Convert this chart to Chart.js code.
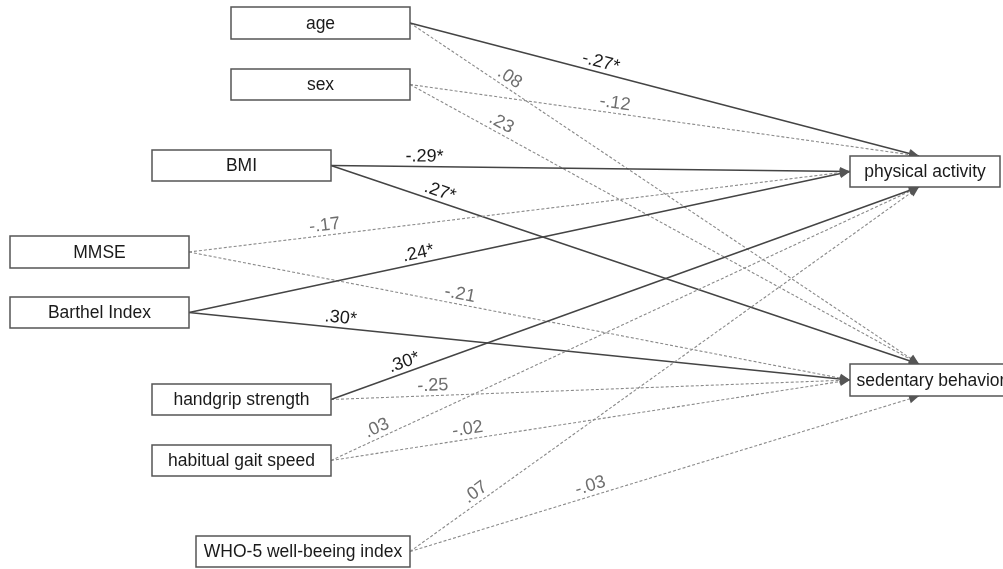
<!DOCTYPE html>
<html>
<head>
<meta charset="utf-8">
<script src="https://cdn.jsdelivr.net/npm/chart.js@4/dist/chart.umd.min.js"></script>
<style>
  body { margin: 0; background: #fff; }
  #wrap { width: 1003px; height: 569px; }
</style>
</head>
<body>
<div id="wrap"><canvas id="pathChart" width="1003" height="569"></canvas></div>
<script>
// data
const predictors = ['age', 'sex', 'BMI', 'MMSE', 'Barthel Index', 'handgrip strength', 'habitual gait speed', 'WHO-5 well-beeing index'];
const outcomes = ['physical activity', 'sedentary behavior'];
const coefPA = [-0.27, -0.12, -0.29, -0.17, 0.24, 0.30, 0.03, 0.07];
const coefSB = [0.08, 0.23, 0.27, -0.21, 0.30, -0.25, -0.02, -0.03];
const sigPA = [true, false, true, false, true, true, false, false];
const sigSB = [false, false, true, false, true, false, false, false];

// layout (axis units = pixels)
const predBoxes = [
  [231, 7, 410, 39], [231, 69, 410, 100], [152, 150, 331, 181], [10, 236, 189, 268],
  [10, 297, 189, 328], [152, 384, 331, 415], [152, 445, 331, 476], [196, 536, 410, 567]
];
const outBoxes = [[850, 156, 1000, 187], [850, 364, 1012, 396]];
const portsPA = ['top', 'top', 'left', 'left', 'left', 'bottom', 'bottom', 'bottom'];
const portsSB = ['top', 'top', 'top', 'left', 'left', 'left', 'left', 'bottom'];
const labelPosPA = [0.37, 0.40, 0.18, 0.207, 0.35, 0.13, 0.085, 0.14];
const labelPosSB = [0.185, 0.17, 0.18, 0.407, 0.228, 0.197, 0.266, 0.36];

const FONT = '"Liberation Sans", Arial, sans-serif';

function portPoint(box, port) {
  if (port === 'top') return { x: box[0] + 69, y: box[1] };
  if (port === 'bottom') return { x: box[0] + 69, y: box[3] };
  return { x: box[0], y: (box[1] + box[3]) / 2 };
}

function fmt(v, sig) {
  let s = Math.abs(v).toFixed(2).replace(/^0/, '');
  return (v < 0 ? '-' : '') + s + (sig ? '*' : '');
}

// build edge list
const edges = [];
[[coefPA, sigPA, portsPA, labelPosPA], [coefSB, sigSB, portsSB, labelPosSB]].forEach((set, o) => {
  predictors.forEach((p, i) => {
    const b = predBoxes[i];
    edges.push({
      from: { x: b[2], y: (b[1] + b[3]) / 2 },
      to: portPoint(outBoxes[o], set[2][i]),
      label: fmt(set[0][i], set[1][i]),
      sig: set[1][i],
      t: set[3][i]
    });
  });
});

const datasets = edges.map(e => ({
  data: [e.from, e.to],
  showLine: true,
  pointRadius: 0,
  borderColor: e.sig ? '#444' : '#8a8a8a',
  borderWidth: e.sig ? 1.4 : 1.1,
  borderDash: e.sig ? [] : [3, 2]
}));

const diagramPlugin = {
  id: 'diagram',
  afterDatasetsDraw(chart) {
    const ctx = chart.ctx;
    const xs = chart.scales.x, ys = chart.scales.y;
    const px = p => ({ x: xs.getPixelForValue(p.x), y: ys.getPixelForValue(p.y) });
    ctx.save();
    // arrowheads
    edges.forEach(e => {
      const a = px(e.from), b = px(e.to);
      const ang = Math.atan2(b.y - a.y, b.x - a.x);
      ctx.save();
      ctx.translate(b.x, b.y);
      ctx.rotate(ang);
      ctx.fillStyle = '#555';
      ctx.beginPath();
      ctx.moveTo(0, 0);
      ctx.lineTo(-10, -4.5);
      ctx.lineTo(-10, 4.5);
      ctx.closePath();
      ctx.fill();
      ctx.restore();
    });
    // coefficient labels
    ctx.font = '18px ' + FONT;
    ctx.textAlign = 'center';
    ctx.textBaseline = 'middle';
    edges.forEach(e => {
      const a = px(e.from), b = px(e.to);
      const dx = b.x - a.x, dy = b.y - a.y;
      const L = Math.hypot(dx, dy);
      const cx = a.x + dx * e.t + (dy / L) * 10;
      const cy = a.y + dy * e.t - (dx / L) * 10;
      ctx.save();
      ctx.translate(cx, cy);
      ctx.rotate(Math.atan2(dy, dx));
      ctx.fillStyle = e.sig ? '#1a1a1a' : '#6e6e6e';
      ctx.fillText(e.label, 0, 0);
      ctx.restore();
    });
    // boxes
    const drawBox = (b, text) => {
      const p1 = px({ x: b[0], y: b[1] }), p2 = px({ x: b[2], y: b[3] });
      ctx.fillStyle = '#fff';
      ctx.fillRect(p1.x, p1.y, p2.x - p1.x, p2.y - p1.y);
      ctx.strokeStyle = '#555';
      ctx.lineWidth = 1.5;
      ctx.setLineDash([]);
      ctx.strokeRect(p1.x, p1.y, p2.x - p1.x, p2.y - p1.y);
      ctx.fillStyle = '#1a1a1a';
      ctx.font = '17.5px ' + FONT;
      ctx.textAlign = 'center';
      ctx.textBaseline = 'middle';
      ctx.fillText(text, (p1.x + p2.x) / 2, (p1.y + p2.y) / 2 + 1);
    };
    predictors.forEach((p, i) => drawBox(predBoxes[i], p));
    outcomes.forEach((o, i) => drawBox(outBoxes[i], o));
    ctx.restore();
  }
};

new Chart(document.getElementById('pathChart'), {
  type: 'scatter',
  data: { datasets: datasets },
  options: {
    responsive: false,
    animation: false,
    devicePixelRatio: 1,
    layout: { padding: 0 },
    plugins: { legend: { display: false }, tooltip: { enabled: false } },
    scales: {
      x: { type: 'linear', min: 0, max: 1003, display: false },
      y: { type: 'linear', min: 0, max: 569, reverse: true, display: false }
    }
  },
  plugins: [diagramPlugin]
});
</script>
</body>
</html>
